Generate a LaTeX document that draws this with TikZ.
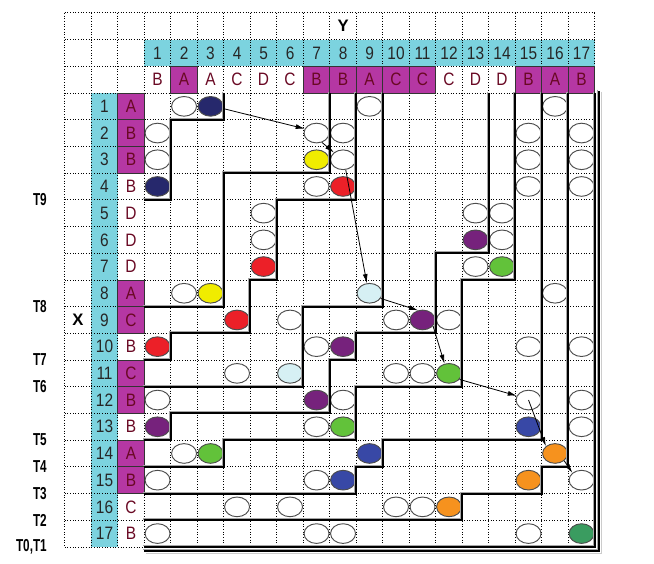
\documentclass[tikz,border=0pt]{standalone}
\usepackage{fontspec}
\setmainfont{Liberation Sans}
\newfontfamily\cellfont[FakeStretch=0.86]{Liberation Sans}
\newfontfamily\tagfont[FakeStretch=0.68]{Liberation Sans}
\usepackage{tikz}
\usetikzlibrary{arrows.meta,shapes.geometric}
\definecolor{cyanhd}{RGB}{124,211,223}
\definecolor{magcell}{RGB}{181,55,163}
\definecolor{ltr}{RGB}{105,8,35}
\definecolor{navy}{RGB}{38,40,108}
\definecolor{yel}{RGB}{240,236,0}
\definecolor{redd}{RGB}{236,32,40}
\definecolor{purp}{RGB}{118,34,124}
\definecolor{grn}{RGB}{98,194,58}
\definecolor{icy}{RGB}{214,240,244}
\definecolor{blu}{RGB}{56,72,166}
\definecolor{org}{RGB}{246,146,30}
\definecolor{sea}{RGB}{58,156,96}
\tikzset{dot/.style={line width=0.6pt,dash pattern=on 0.7pt off 1.3pt},cell/.style={font=\cellfont\fontsize{13.5}{15}\selectfont,text=ltr,minimum width=0.7cm,minimum height=0.7053cm,inner sep=0pt,outer sep=0pt},hd/.style={cell,text=black!85},pl/.style={},mag/.style={fill=magcell,draw=black!80,line width=0.6pt},ax/.style={font=\bfseries\fontsize{12.5}{14}\selectfont,inner sep=0pt},tag/.style={font=\tagfont\bfseries\fontsize{13}{14}\selectfont,inner sep=0pt,anchor=east},bub/.style={ellipse,draw=black!70,line width=0.7pt,minimum width=0.66cm,minimum height=0.52cm,inner sep=0pt,fill=white},wall/.style={line width=1.5pt,draw=black},ghost/.style={line width=1.1pt,draw=black!35,shift={(-0.9pt,0.9pt)}},hop/.style={-{Latex[length=2.4mm,width=1.3mm]},line width=0.6pt}}

\begin{document}
\begin{tikzpicture}[x=0.7cm,y=0.7053cm]
\useasboundingbox (-5.445,3.483) rectangle (19.234,-17.603);
\fill[cyanhd] (0,2) rectangle (17,1);
\fill[cyanhd] (-2,0) rectangle (-1,-17);
\foreach \i in {-3,...,17} {\draw[dot] (\i,3)--(\i,-17); \draw[dot] (-3,-\i)--(17,-\i);}
\foreach \c/\s/\k in {1/B/pl,2/A/mag,3/A/pl,4/C/pl,5/D/pl,6/C/pl,7/B/mag,8/B/mag,9/A/mag,10/C/mag,11/C/mag,12/C/pl,13/D/pl,14/D/pl,15/B/mag,16/A/mag,17/B/mag}
 {\node[hd] (ny\c) at (\c-0.5,1.5) {\c}; \node[cell,\k] (ly\c) at (\c-0.5,0.5) {\s};}
\foreach \r/\s/\k in {1/A/mag,2/B/mag,3/B/mag,4/B/pl,5/D/pl,6/D/pl,7/D/pl,8/A/mag,9/C/mag,10/B/pl,11/C/mag,12/B/mag,13/B/pl,14/A/mag,15/B/mag,16/C/pl,17/B/pl}
 {\node[hd] (nx\r) at (-1.5,0.5-\r) {\r}; \node[cell,\k] (lx\r) at (-0.5,0.5-\r) {\s};}
\node[ax] (ylab) at (7.5,2.5) {Y};
\node[ax] (xlab) at (-2.5,-8.5) {X};
\foreach \n/\r in {T9/4,T8/8,T7/10,T6/11,T5/13,T4/14,T3/15,T2/16,{T0,T1}/17}
 \node[tag] (t\r) at (-3.67,-\r) {\n};
\foreach \r/\c/\f in {1/2/white,1/3/navy,1/9/white,1/16/white,2/1/white,2/7/white,2/8/white,2/15/white,2/17/white,3/1/white,3/7/yel,3/8/white,3/15/white,3/17/white,4/1/navy,4/7/white,4/8/redd,4/15/white,4/17/white,5/5/white,5/13/white,5/14/white,6/5/white,6/13/purp,6/14/white,7/5/redd,7/13/white,7/14/grn,8/2/white,8/3/yel,8/9/icy,8/16/white,9/4/redd,9/6/white,9/10/white,9/11/purp,9/12/white,10/1/redd,10/7/white,10/8/purp,10/15/white,10/17/white,11/4/white,11/6/icy,11/10/white,11/11/white,11/12/grn,12/1/white,12/7/purp,12/8/white,12/15/white,12/17/white,13/1/purp,13/7/white,13/8/grn,13/15/blu,13/17/white,14/2/white,14/3/grn,14/9/blu,14/16/org,15/1/white,15/7/white,15/8/blu,15/15/org,15/17/white,16/4/white,16/6/white,16/10/white,16/11/white,16/12/org,17/1/white,17/7/white,17/8/white,17/15/white,17/17/sea}
 \node[bub,fill=\f] (e\r-\c) at (\c-0.5,0.5-\r) {};
\foreach \p in {{(3,0)--(3,-1)--(1,-1)--(1,-4)--(0,-4)},{(7,0)--(7,-3)--(3,-3)--(3,-8)--(0,-8)},{(8,0)--(8,-4)--(5,-4)--(5,-7)--(4,-7)--(4,-9)--(1,-9)--(1,-10)--(0,-10)},{(9,0)--(9,-8)--(6,-8)--(6,-11)--(0,-11)},{(13,0)--(13,-6)--(11,-6)--(11,-9)--(8,-9)--(8,-10)--(7,-10)--(7,-12)--(1,-12)--(1,-13)--(0,-13)},{(14,0)--(14,-7)--(12,-7)--(12,-11)--(8,-11)--(8,-13)--(3,-13)--(3,-14)--(0,-14)},{(15,0)--(15,-13)--(9,-13)--(9,-14)--(8,-14)--(8,-15)--(0,-15)},{(16,0)--(16,-14)--(15,-14)--(15,-15)--(12,-15)--(12,-16)--(0,-16)},{(17,0)--(17,-17)--(0,-17)},{(17.15,0.08)--(17.15,-17.15)--(0,-17.15)}}
 {\draw[ghost] \p; \draw[wall] \p;}
\draw[line width=1.1pt,draw=black!20] (17.25,0.05)--(17.25,-17.25)--(0.05,-17.25);
\draw[hop] (e1-3.-10) -- (e2-7.160);
\draw[hop] (e2-7.-60) -- (e3-8.north west);
\draw[hop] (e3-8.-75) -- (e8-9.105);
\draw[hop] (e8-9.-25) -- (e9-11.115);
\draw[hop] (e9-11.-30) -- (e11-12.115);
\draw[hop] (e11-12.-30) -- (e12-15.160);
\draw[hop] (e12-15.center) -- (e14-16.north west);
\draw[hop] (e14-16.south east) -- (e15-17.north west);
\end{tikzpicture}
\end{document}
